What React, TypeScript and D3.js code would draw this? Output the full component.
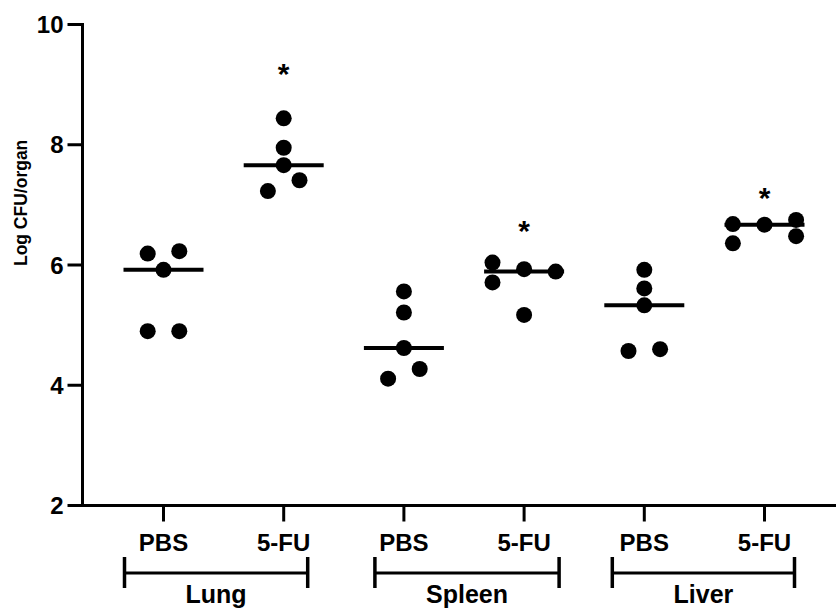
import React from "react";
import * as d3 from "d3";

// ---- data ----
const organs = ["Lung", "Spleen", "Liver"];
const treatments = ["PBS", "5-FU"];
const yTicks = [2, 4, 6, 8, 10];

const lungPBS = [6.19, 6.23, 5.92, 4.9, 4.9];
const lung5FU = [8.44, 7.95, 7.66, 7.41, 7.23];
const spleenPBS = [5.56, 5.21, 4.62, 4.27, 4.11];
const spleen5FU = [6.04, 5.71, 5.93, 5.89, 5.17];
const liverPBS = [5.92, 5.61, 5.33, 4.57, 4.6];
const liver5FU = [6.68, 6.36, 6.67, 6.75, 6.48];

// horizontal scatter slot of each point (in dot widths)
const lungPBSJitter = [-1, 1, 0, -1, 1];
const lung5FUJitter = [0, 0, 0, 1, -1];
const spleenPBSJitter = [0, 0, 0, 1, -1];
const spleen5FUJitter = [-2, -2, 0, 2, 0];
const liverPBSJitter = [0, 0, 0, -1, 1];
const liver5FUJitter = [-2, -2, 0, 2, 2];

// significance marker level (log CFU) for 5-FU groups
const starLevels = [9.28, 6.67, 7.21];

const groups = [
  { organ: "Lung", treat: treatments[0], values: lungPBS, jitter: lungPBSJitter },
  { organ: "Lung", treat: treatments[1], values: lung5FU, jitter: lung5FUJitter },
  { organ: "Spleen", treat: treatments[0], values: spleenPBS, jitter: spleenPBSJitter },
  { organ: "Spleen", treat: treatments[1], values: spleen5FU, jitter: spleen5FUJitter },
  { organ: "Liver", treat: treatments[0], values: liverPBS, jitter: liverPBSJitter },
  { organ: "Liver", treat: treatments[1], values: liver5FU, jitter: liver5FUJitter },
];

const W = 836;
const H = 610;
const FONT = "'Liberation Sans', Arial, Helvetica, sans-serif";

export default function App() {
  const axisX = 82.5;
  const axisY = 505.5;
  const y = d3.scaleLinear().domain([2, 10]).range([axisY, 24.5]);
  const keys = groups.map((g, i) => String(i));
  const x = d3.scalePoint<string>().domain(keys).range([163.5, 764.5]);
  const slot = 15.8;
  const r = 8;
  const halfMed = 40;
  const bracketPadL = [39, 29, 32];
  const bracketPadR = [24, 35, 30];

  return (
    <svg
      width={W}
      height={H}
      style={{ position: "absolute", left: 0, top: 0, background: "#fff" }}
      fontFamily={FONT}
      fontWeight="bold"
    >
      {/* y axis */}
      <line x1={axisX} x2={axisX} y1={y(10) - 1.5} y2={axisY + 1.5} stroke="#000" strokeWidth={3} />
      {yTicks.map((t) => (
        <g key={t}>
          <line x1={axisX - 15} x2={axisX} y1={y(t)} y2={y(t)} stroke="#000" strokeWidth={3} />
          <text x={axisX - 19} y={y(t) + 8.5} textAnchor="end" fontSize={24} fill="#000">
            {t}
          </text>
        </g>
      ))}
      <text
        transform={`translate(27,${(y(8) + y(6)) / 2 - 2}) rotate(-90)`}
        textAnchor="middle"
        fontSize={17.5}
        fill="#000"
      >
        Log CFU/organ
      </text>

      {/* x axis */}
      <line x1={axisX - 1.5} x2={W} y1={axisY} y2={axisY} stroke="#000" strokeWidth={3} />
      {groups.map((g, i) => (
        <g key={"xt" + i}>
          <line x1={x(String(i))} x2={x(String(i))} y1={axisY} y2={axisY + 16} stroke="#000" strokeWidth={3} />
          <text x={x(String(i))} y={551} textAnchor="middle" fontSize={24} fill="#000">
            {g.treat}
          </text>
        </g>
      ))}

      {/* organ brackets */}
      {organs.map((o, k) => {
        const x0 = (x(String(k * 2)) as number) - bracketPadL[k];
        const x1 = (x(String(k * 2 + 1)) as number) + bracketPadR[k];
        return (
          <g key={o}>
            <line x1={x0} x2={x1} y1={573} y2={573} stroke="#000" strokeWidth={3} />
            <line x1={x0} x2={x0} y1={557} y2={588} stroke="#000" strokeWidth={3.5} />
            <line x1={x1} x2={x1} y1={557} y2={588} stroke="#000" strokeWidth={3.5} />
            <text x={(x0 + x1) / 2} y={603} textAnchor="middle" fontSize={25} fill="#000">
              {o}
            </text>
          </g>
        );
      })}

      {/* medians */}
      {groups.map((g, i) => {
        const cx = x(String(i)) as number;
        const m = d3.median(g.values) as number;
        return (
          <line
            key={"m" + i}
            x1={cx - halfMed}
            x2={cx + halfMed}
            y1={y(m)}
            y2={y(m)}
            stroke="#000"
            strokeWidth={4}
          />
        );
      })}

      {/* points */}
      {groups.map((g, i) => {
        const cx = x(String(i)) as number;
        return g.values.map((v, j) => (
          <circle key={"p" + i + "-" + j} cx={cx + g.jitter[j] * slot} cy={y(v)} r={r} fill="#000" />
        ));
      })}

      {/* significance stars */}
      {organs.map((o, k) => (
        <text
          key={"s" + o}
          x={x(String(k * 2 + 1))}
          y={y(starLevels[k]) + 16}
          textAnchor="middle"
          fontSize={30}
          fill="#000"
        >
          *
        </text>
      ))}
    </svg>
  );
}
